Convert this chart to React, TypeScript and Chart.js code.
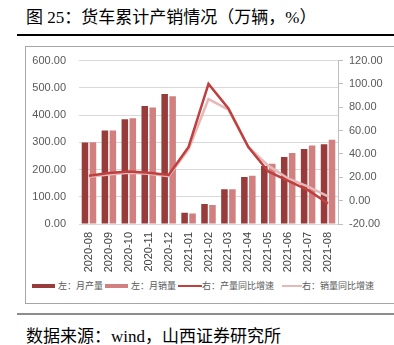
import React, { useEffect, useRef } from "react";
import { Chart, registerables } from "chart.js";

Chart.register(...registerables);

const categories = [
  "2020-08", "2020-09", "2020-10", "2020-11", "2020-12", "2021-01", "2021-02",
  "2021-03", "2021-04", "2021-05", "2021-06", "2021-07", "2021-08",
];
const production = [299, 343, 385, 433, 477, 41, 73, 128, 173, 213, 246, 275, 293];
const sales = [300, 343, 388, 428, 469, 39, 70, 128, 177, 221, 261, 288, 309];
const productionYoY = [21.4, 23.7, 25, 24, 22, 46, 100, 79, 46, 25, 17, 9, -2.5];
const salesYoY = [20.5, 22.5, 24, 23, 21, 44, 87, 78, 46, 30, 19, 12, 3.7];

const leftTicks = { min: 0, max: 600, step: 100 };
const rightTicks = { min: -20, max: 120, step: 20 };

const legendItems = [
  { label: "左：月产量", color: "#983b3b", kind: "bar" },
  { label: "左：月销量", color: "#d27f7f", kind: "bar" },
  { label: "右：产量同比增速", color: "#c0403f", kind: "line" },
  { label: "右：销量同比增速", color: "#e6b8b7", kind: "line" },
];

const COLORS = {
  prod: "#983b3b",
  sales: "#d27f7f",
  prodLine: "#c0403f",
  salesLine: "#e6b8b7",
};

export default function App() {
  const ref = useRef<HTMLCanvasElement | null>(null);

  useEffect(() => {
    if (!ref.current) return;
    const tickFont = { family: "'Liberation Sans', Arial, sans-serif", size: 11 };
    const chart = new Chart(ref.current, {
      type: "bar",
      data: {
        labels: categories,
        datasets: [
          {
            type: "line",
            label: legendItems[2].label,
            data: productionYoY,
            yAxisID: "yR",
            borderColor: COLORS.prodLine,
            backgroundColor: COLORS.prodLine,
            borderWidth: 2.5,
            pointRadius: 0,
            tension: 0,
            order: 0,
          },
          {
            type: "line",
            label: legendItems[3].label,
            data: salesYoY,
            yAxisID: "yR",
            borderColor: COLORS.salesLine,
            backgroundColor: COLORS.salesLine,
            borderWidth: 2.5,
            pointRadius: 0,
            tension: 0,
            order: 1,
          },
          {
            type: "bar",
            label: legendItems[0].label,
            data: production,
            yAxisID: "yL",
            backgroundColor: COLORS.prod,
            categoryPercentage: 0.8,
            barPercentage: 0.82,
            order: 2,
          },
          {
            type: "bar",
            label: legendItems[1].label,
            data: sales,
            yAxisID: "yL",
            backgroundColor: COLORS.sales,
            categoryPercentage: 0.8,
            barPercentage: 0.82,
            order: 3,
          },
        ],
      },
      options: {
        responsive: false,
        animation: false,
        layout: { padding: { top: 14, left: 0, right: 0, bottom: 0 } },
        plugins: {
          legend: { display: false },
          tooltip: { enabled: false },
        },
        scales: {
          x: {
            grid: { display: false, drawTicks: false },
            border: { display: false },
            ticks: {
              font: tickFont,
              color: "#404040",
              minRotation: 90,
              maxRotation: 90,
              padding: 8,
              autoSkip: false,
            },
            afterFit: (s: any) => {
              s.height = 53;
            },
          },
          yL: {
            position: "left",
            min: leftTicks.min,
            max: leftTicks.max,
            grid: { color: "#d9d9d9", lineWidth: 1, drawTicks: false },
            border: { display: false },
            ticks: {
              stepSize: leftTicks.step,
              font: tickFont,
              color: "#595959",
              padding: 13,
              callback: (v: any) => Number(v).toFixed(2),
            },
            afterFit: (s: any) => {
              s.width = 54;
            },
          },
          yR: {
            position: "right",
            min: rightTicks.min,
            max: rightTicks.max,
            grid: {
              drawOnChartArea: false,
              drawTicks: true,
              tickLength: 5,
              color: "#bfbfbf",
            },
            border: { display: true, color: "#bfbfbf", width: 1 },
            ticks: {
              stepSize: rightTicks.step,
              font: tickFont,
              color: "#595959",
              padding: 6,
              callback: (v: any) => Number(v).toFixed(2),
            },
            afterFit: (s: any) => {
              s.width = 56;
            },
          },
        },
      },
    });
    return () => chart.destroy();
  }, []);

  const legendX = [
    { box: 32, w: 23, text: 58 },
    { box: 105, w: 23, text: 131 },
    { box: 178, w: 24, text: 202 },
    { box: 282, w: 20, text: 302 },
  ];

  return (
    <div
      style={{
        position: "absolute",
        left: 0,
        top: 0,
        width: 394,
        height: 345,
        background: "#fff",
        overflow: "hidden",
        fontFamily: "'Liberation Serif', 'Noto Sans CJK SC', serif",
      }}
    >
      <div
        style={{
          position: "absolute",
          left: 26,
          top: 6,
          fontSize: 17,
          lineHeight: "24px",
          color: "#000",
          whiteSpace: "nowrap",
        }}
      >
        图 25：货车累计产销情况（万辆，%）
      </div>
      <div
        style={{
          position: "absolute",
          left: 17,
          top: 34,
          width: 377,
          height: 1.5,
          background: "#000",
        }}
      />
      <div
        style={{
          position: "absolute",
          left: 25,
          top: 46,
          width: 380,
          height: 256,
          border: "1px solid #a6a6a6",
        }}
      />
      <div style={{ position: "absolute", left: 25, top: 41 }}>
        <canvas ref={ref} width={369} height={236} style={{ display: "block" }} />
      </div>
      {legendItems.map((it, i) => (
        <React.Fragment key={it.label}>
          <div
            style={{
              position: "absolute",
              left: legendX[i].box,
              top: it.kind === "bar" ? 284 : 285,
              width: legendX[i].w,
              height: it.kind === "bar" ? 4 : 2,
              background: it.color,
            }}
          />
          <div
            style={{
              position: "absolute",
              left: legendX[i].text,
              top: 279,
              fontSize: 9,
              lineHeight: "14px",
              color: "#595959",
              fontFamily: "'Noto Sans CJK SC', sans-serif",
              whiteSpace: "nowrap",
            }}
          >
            {it.label}
          </div>
        </React.Fragment>
      ))}
      <div
        style={{
          position: "absolute",
          left: 17,
          top: 313,
          width: 377,
          height: 2,
          background: "#8c8c8c",
        }}
      />
      <div
        style={{
          position: "absolute",
          left: 26,
          top: 325,
          fontSize: 17,
          lineHeight: "24px",
          color: "#000",
          whiteSpace: "nowrap",
        }}
      >
        数据来源：wind，山西证券研究所
      </div>
    </div>
  );
}
